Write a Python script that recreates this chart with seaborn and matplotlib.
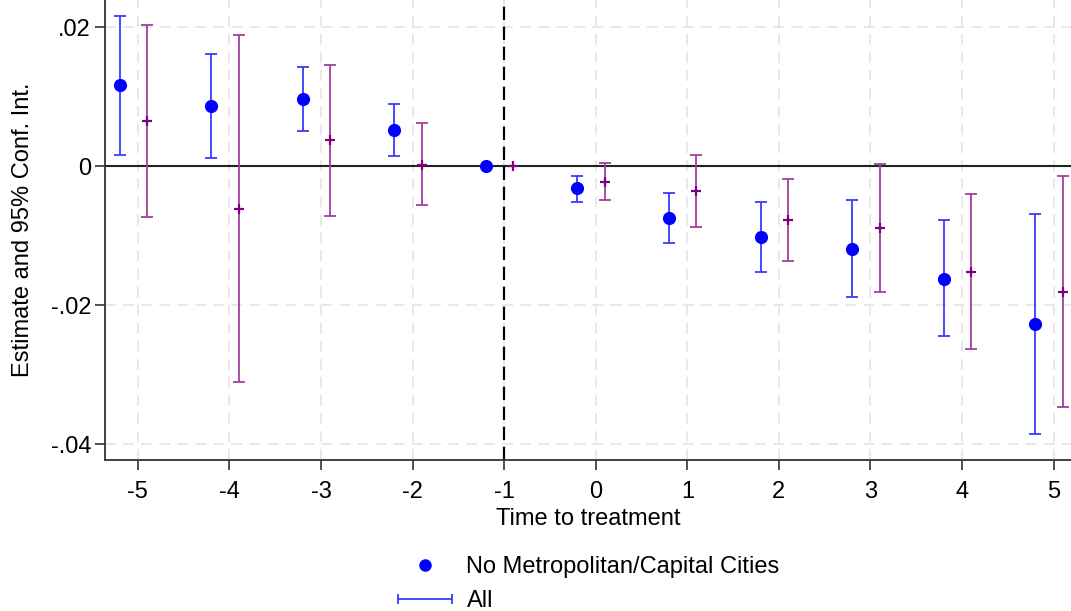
import numpy as np
import pandas as pd
import matplotlib
matplotlib.use("Agg")
import matplotlib.pyplot as plt
import seaborn as sns
from matplotlib.lines import Line2D
from matplotlib.legend_handler import HandlerLine2D

# event time
periods = [-5, -4, -3, -2, -1, 0, 1, 2, 3, 4, 5]

# No Metropolitan/Capital Cities (blue dots)
est_nometro = [0.0116, 0.0086, 0.0096, 0.0052, 0.0, -0.0032, -0.0075, -0.0102, -0.0119, -0.0162, -0.0227]
lo_nometro = [0.0016, 0.0012, 0.0050, 0.0015, 0.0, -0.0051, -0.0111, -0.0152, -0.0188, -0.0245, -0.0385]
hi_nometro = [0.0216, 0.0162, 0.0142, 0.0089, 0.0, -0.0014, -0.0039, -0.0052, -0.0049, -0.0078, -0.0069]

# All (purple crosses)
est_all = [0.0065, -0.0062, 0.0037, 0.0002, 0.0, -0.0023, -0.0036, -0.0078, -0.0089, -0.0152, -0.0181]
lo_all = [-0.0073, -0.0311, -0.0072, -0.0056, 0.0, -0.0049, -0.0088, -0.0137, -0.0181, -0.0263, -0.0346]
hi_all = [0.0203, 0.0188, 0.0146, 0.0062, 0.0, 0.0004, 0.0016, -0.0019, 0.0003, -0.0040, -0.0014]

blue = "#0000ff"
blue_ci = "#3a3aff"
purple = "#800080"
purple_ci = "#a040a0"

df1 = pd.DataFrame({"t": np.array(periods) - 0.2, "est": est_nometro, "lo": lo_nometro, "hi": hi_nometro})
df2 = pd.DataFrame({"t": np.array(periods) + 0.1, "est": est_all, "lo": lo_all, "hi": hi_all})

sns.set_style("white")
plt.rcParams["font.family"] = ["Liberation Sans", "DejaVu Sans"]
plt.rcParams["axes.unicode_minus"] = False
plt.rcParams["text.color"] = "black"
plt.rcParams["axes.labelcolor"] = "black"

fig = plt.figure(figsize=(10.71, 6.11), dpi=100)
ax = fig.add_axes([0.098, 0.247, 0.902, 0.753])

# grid
for x in periods:
    ax.axvline(x, color="#e6e6e6", lw=1.3, ls=(0, (6, 4)), zorder=0)
for y in [0.02, -0.02, -0.04]:
    ax.axhline(y, color="#e6e6e6", lw=1.3, ls=(0, (6, 4)), zorder=0)

ax.axhline(0, color="#222222", lw=1.5, zorder=1)
ax.axvline(-1, color="black", lw=1.6, ls=(0, (6, 3)), zorder=1)

# confidence intervals (skip the reference period)
m1 = df1["t"] != -1.2
ax.errorbar(df1.loc[m1, "t"], df1.loc[m1, "est"],
            yerr=[df1.loc[m1, "est"] - df1.loc[m1, "lo"], df1.loc[m1, "hi"] - df1.loc[m1, "est"]],
            fmt="none", ecolor=blue_ci, elinewidth=1.3, capsize=4, capthick=1.3, zorder=2)
m2 = df2["t"] != -0.9
ax.errorbar(df2.loc[m2, "t"], df2.loc[m2, "est"],
            yerr=[df2.loc[m2, "est"] - df2.loc[m2, "lo"], df2.loc[m2, "hi"] - df2.loc[m2, "est"]],
            fmt="none", ecolor=purple_ci, elinewidth=1.3, capsize=4, capthick=1.3, zorder=2)

sns.scatterplot(data=df1, x="t", y="est", ax=ax, color=blue, s=90, edgecolor=blue, linewidth=0, zorder=3)
sns.scatterplot(data=df2, x="t", y="est", ax=ax, color=purple, marker="+", s=50, linewidth=1.6, zorder=3)

ax.set_xlim(-5.36, 5.19)
ax.set_ylim(-0.0423, 0.0239)
ax.set_xticks(periods)
ax.set_xticklabels([str(p) for p in periods])
ax.set_yticks([0.02, 0, -0.02, -0.04])
ax.set_yticklabels([".02", "0", "-.02", "-.04"])
ax.tick_params(axis="both", direction="out", length=7, width=1.2, color="#333333",
               labelsize=17, left=True, bottom=True, labelcolor="black")
ax.tick_params(axis="x", pad=8)
ax.tick_params(axis="y", pad=3)
for s in ["top", "right"]:
    ax.spines[s].set_visible(False)
for s in ["left", "bottom"]:
    ax.spines[s].set_color("#333333")
    ax.spines[s].set_linewidth(1.3)

ax.set_xlabel("Time to treatment", fontsize=17, labelpad=4)
ax.set_ylabel("Estimate and 95% Conf. Int.", fontsize=17, labelpad=12)

h_dot = Line2D([], [], color=blue, marker="o", ls="none", markersize=8)
h_bar = Line2D([], [], color=blue_ci, lw=1.3, marker="|", markersize=7, markeredgewidth=1.3)
fig.legend([h_dot, h_bar], ["No Metropolitan/Capital Cities", "All"], loc="upper left",
           bbox_to_anchor=(0.3628, 0.105), frameon=False, fontsize=17,
           handlelength=2.3, handletextpad=0.6, labelspacing=0.5, borderaxespad=0,
           handler_map={h_bar: HandlerLine2D(numpoints=2, marker_pad=0)})

fig.savefig("out.png", dpi=100)
